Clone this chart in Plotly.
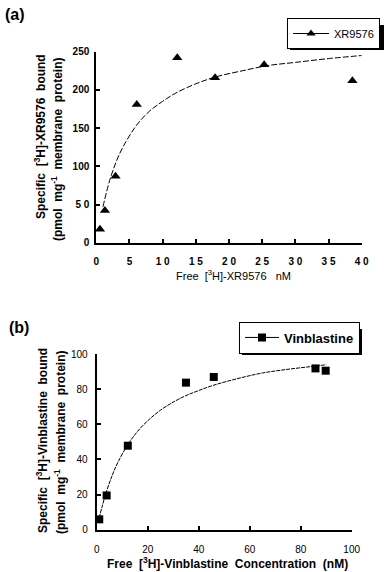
import plotly.graph_objects as go

W, H = 386, 572

# ---------------- data ----------------
# panel (a): XR9576
xr_free = [0.55, 1.3, 2.9, 6.1, 12.2, 17.9, 25.3, 38.6]
xr_bound = [17.5, 42, 87, 181, 242, 216, 233, 212]
xr_fit_x = [1, 2, 3, 4, 6, 8, 10, 12, 15, 18, 22, 26, 30, 35, 40]
xr_fit_y = [47, 81, 106, 125, 153, 172, 185, 196, 208, 217, 225, 232, 236, 241, 245]
xr_xticks = [0, 5, 10, 15, 20, 25, 30, 35, 40]
xr_xticktext = ["0", "5", "1 0", "1 5", "2 0", "2 5", "3 0", "3 5", "4 0"]
xr_yticks = [0, 50, 100, 150, 200, 250]
xr_yticktext = ["0", "5 0", "100", "150", "200", "250"]

# panel (b): Vinblastine
vb_free = [1.0, 3.9, 12.2, 35.0, 45.9, 85.8, 89.8]
vb_bound = [5.9, 19.5, 47.8, 83.7, 86.9, 91.8, 90.5]
vb_fit_x = [1, 2, 4, 6, 8, 12, 16, 20, 25, 30, 35, 40, 46, 55, 65, 75, 85, 90]
vb_fit_y = [6.7, 12.5, 22.5, 30.6, 37.4, 48, 55.9, 62, 68, 72.6, 76.3, 79.2, 82.3, 85.9, 89.2, 91.3, 93, 93.9]
vb_xticks = [0, 20, 40, 60, 80, 100]
vb_yticks = [0, 20, 40, 60, 80, 100]

FONT = "Arial, Liberation Sans, sans-serif"

def px(x):
    return x / W

def py(y):
    return 1 - y / H

fig = go.Figure()

# ---- panel (a) traces ----
fig.add_trace(go.Scatter(x=xr_fit_x, y=xr_fit_y, mode="lines", line=dict(color="black", width=1, shape="spline", dash="6px,2px"),
                         xaxis="x", yaxis="y", showlegend=False, hoverinfo="skip"))
fig.add_trace(go.Scatter(x=xr_free, y=xr_bound, mode="markers", marker=dict(symbol="triangle-up", size=9, color="black"),
                         xaxis="x", yaxis="y", showlegend=False, cliponaxis=False))
fig.add_trace(go.Scatter(x=[None], y=[None], mode="lines+markers", name="XR9576",
                         line=dict(color="black", width=1), marker=dict(symbol="triangle-up", size=8, color="black"),
                         xaxis="x", yaxis="y", legend="legend"))

# ---- panel (b) traces ----
fig.add_trace(go.Scatter(x=vb_fit_x, y=vb_fit_y, mode="lines", line=dict(color="black", width=1, shape="spline", dash="4px,1px"),
                         xaxis="x2", yaxis="y2", showlegend=False, hoverinfo="skip"))
fig.add_trace(go.Scatter(x=vb_free, y=vb_bound, mode="markers", marker=dict(symbol="square", size=8, color="black"),
                         xaxis="x2", yaxis="y2", showlegend=False, cliponaxis=False))
fig.add_trace(go.Scatter(x=[None], y=[None], mode="lines+markers", name="Vinblastine",
                         line=dict(color="black", width=1), marker=dict(symbol="square", size=8, color="black"),
                         xaxis="x2", yaxis="y2", legend="legend2"))

axis_common = dict(showline=True, linewidth=2, linecolor="black", ticks="inside", ticklen=4, tickwidth=2,
                   tickcolor="black", showgrid=False, zeroline=False, fixedrange=True, automargin=False)

fig.update_layout(
    template="none",
    width=W, height=H,
    margin=dict(l=0, r=0, t=0, b=0, pad=0, autoexpand=False),
    paper_bgcolor="white", plot_bgcolor="white",
    font=dict(family=FONT, color="black", size=10),
    xaxis=dict(domain=[px(96.3), px(361.7)], range=[0, 40], anchor="y", tickmode="array",
               tickvals=xr_xticks, ticktext=xr_xticktext, ticklabelstandoff=8,
               tickfont=dict(family=FONT, size=10, weight="bold"), **axis_common),
    yaxis=dict(domain=[py(242.7), py(51.7)], range=[0, 250], anchor="x", tickmode="array",
               tickvals=xr_yticks, ticktext=xr_yticktext, ticklabelstandoff=3,
               tickfont=dict(family=FONT, size=10, weight="bold"), **axis_common),
    xaxis2=dict(domain=[px(96.7), px(351.7)], range=[0, 100], anchor="y2", tickmode="array",
                tickvals=vb_xticks, ticklabelstandoff=9,
                tickfont=dict(family=FONT, size=10), **axis_common),
    yaxis2=dict(domain=[py(529.7), py(354)], range=[0, 100], anchor="x2", tickmode="array",
                tickvals=vb_yticks, ticklabelstandoff=5,
                tickfont=dict(family=FONT, size=10), **axis_common),
    legend=dict(x=px(287), y=py(33.5), xanchor="left", yanchor="middle", bgcolor="white",
                bordercolor="black", borderwidth=1, font=dict(family=FONT, size=11),
                tracegroupgap=0, itemwidth=36),
    legend2=dict(x=px(239), y=py(337.5), xanchor="left", yanchor="middle", bgcolor="white",
                 bordercolor="black", borderwidth=1, font=dict(family=FONT, size=13, weight="bold"),
                 tracegroupgap=0, itemwidth=34),
    showlegend=True,
)

# legend drop shadows
fig.add_shape(type="rect", xref="paper", yref="paper", x0=px(290), x1=px(384), y0=py(50), y1=py(25),
              fillcolor="black", line=dict(width=0), layer="below")
fig.add_shape(type="rect", xref="paper", yref="paper", x0=px(242), x1=px(362), y0=py(355), y1=py(329),
              fillcolor="black", line=dict(width=0), layer="below")

ann = []
# panel labels
ann.append(dict(text="(a)", x=px(3), y=py(4), xanchor="left", yanchor="top", font=dict(size=16, weight="bold")))
ann.append(dict(text="(b)", x=px(7), y=py(317), xanchor="left", yanchor="top", font=dict(size=16, weight="bold")))
# y titles (a)
ann.append(dict(text="Specific  [<sup>3</sup>H]-XR9576  bound", x=px(40), y=py(137), textangle=-90,
                xanchor="center", yanchor="middle", font=dict(size=12, weight="bold")))
ann.append(dict(text="(pmol  mg<sup>-1</sup>  membrane  protein)", x=px(57), y=py(150), textangle=-90,
                xanchor="center", yanchor="middle", font=dict(size=12, weight="bold")))
# x title (a)
ann.append(dict(text="Free  [<sup>3</sup>H]-XR9576   nM", x=px(233), y=py(275), xanchor="center", yanchor="middle",
                font=dict(size=11)))
# y titles (b)
ann.append(dict(text="Specific  [<sup>3</sup>H]-Vinblastine  bound", x=px(42), y=py(441), textangle=-90,
                xanchor="center", yanchor="middle", font=dict(size=12, weight="bold")))
ann.append(dict(text="(pmol  mg<sup>-1</sup>  membrane  protein)", x=px(60), y=py(443), textangle=-90,
                xanchor="center", yanchor="middle", font=dict(size=12, weight="bold")))
# x title (b)
ann.append(dict(text="Free  [<sup>3</sup>H]-Vinblastine  Concentration  (nM)", x=px(227), y=py(563),
                xanchor="center", yanchor="middle", font=dict(size=12, weight="bold")))

for a in ann:
    a.update(xref="paper", yref="paper", showarrow=False)
    a.setdefault("font", {})
    a["font"].setdefault("family", FONT)
    a["font"].setdefault("color", "black")
fig.update_layout(annotations=ann)

fig.write_html("out.html", config={"displayModeBar": False},
               post_script="document.body.style.margin='0px';document.body.style.padding='0px';")
